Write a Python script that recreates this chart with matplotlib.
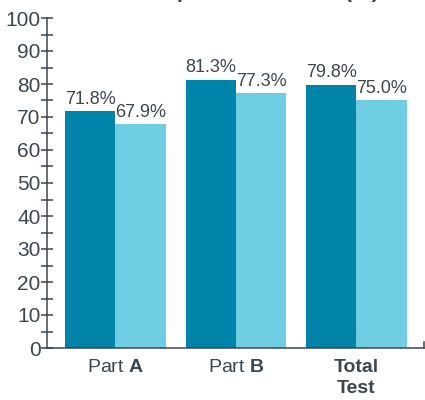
import numpy as np
import matplotlib.pyplot as plt
from matplotlib.ticker import MultipleLocator

#-------------------------------------------------------------
# data
#-------------------------------------------------------------
groups = [r"Part $\mathbf{A}$", r"Part $\mathbf{B}$", "Total\nTest"]
series_1 = [71.8, 81.3, 79.8]
series_2 = [67.9, 77.3, 75.0]

dark = "#0083a9"
light = "#6fcde3"
txt = "#3b4650"

plt.rcParams['font.family'] = ['Liberation Sans', 'DejaVu Sans']
plt.rcParams['mathtext.fontset'] = 'custom'
plt.rcParams['mathtext.rm'] = 'Liberation Sans'
plt.rcParams['mathtext.bf'] = 'Liberation Sans:bold'

fig = plt.figure(figsize=(4.25, 4.0), dpi=100)
ax = fig.add_axes([47/425, 52/400, 377/425, 330/400])

x = np.arange(len(groups))
w = 0.417
ax.bar(x - w/2, series_1, w, color=dark)
ax.bar(x + w/2, series_2, w, color=light)

for xi, v in zip(x - w/2, series_1):
    ax.text(xi, v + 1.0, f"{v:.1f}%", ha="center", va="bottom", fontsize=13, color=txt)
for xi, v in zip(x + w/2, series_2):
    ax.text(xi, v + 1.0, f"{v:.1f}%", ha="center", va="bottom", fontsize=13, color=txt)

ax.set_xlim(-0.567, 2.56)
ax.set_ylim(0, 100)
ax.yaxis.set_major_locator(MultipleLocator(10))
ax.yaxis.set_minor_locator(MultipleLocator(5))
ax.tick_params(axis="y", which="both", direction="inout", length=9, width=1.1,
               color=txt, labelcolor=txt, labelsize=15, pad=0)
ax.set_xticks(x)
ax.set_xticklabels(groups, fontsize=14, color=txt, va="top", linespacing=1.3)
for lbl in ax.get_xticklabels()[2:]:
    lbl.set_fontweight("bold")
ax.tick_params(axis="x", length=0, pad=8)

for s in ["top", "right"]:
    ax.spines[s].set_visible(False)
for s in ["left", "bottom"]:
    ax.spines[s].set_color(txt)
    ax.spines[s].set_linewidth(1.1)

# small end tick on the right of the baseline
ax.plot([1, 1], [0, 0.018], transform=ax.transAxes, color=txt, lw=1.1, clip_on=False)

# title, cut off at the top in the reference
fig.text(0.58, 1.02, "Mean percent correct (%)", ha="center", va="center",
         fontsize=16, fontweight="bold", color=txt)

plt.savefig("out.png", dpi=100)
